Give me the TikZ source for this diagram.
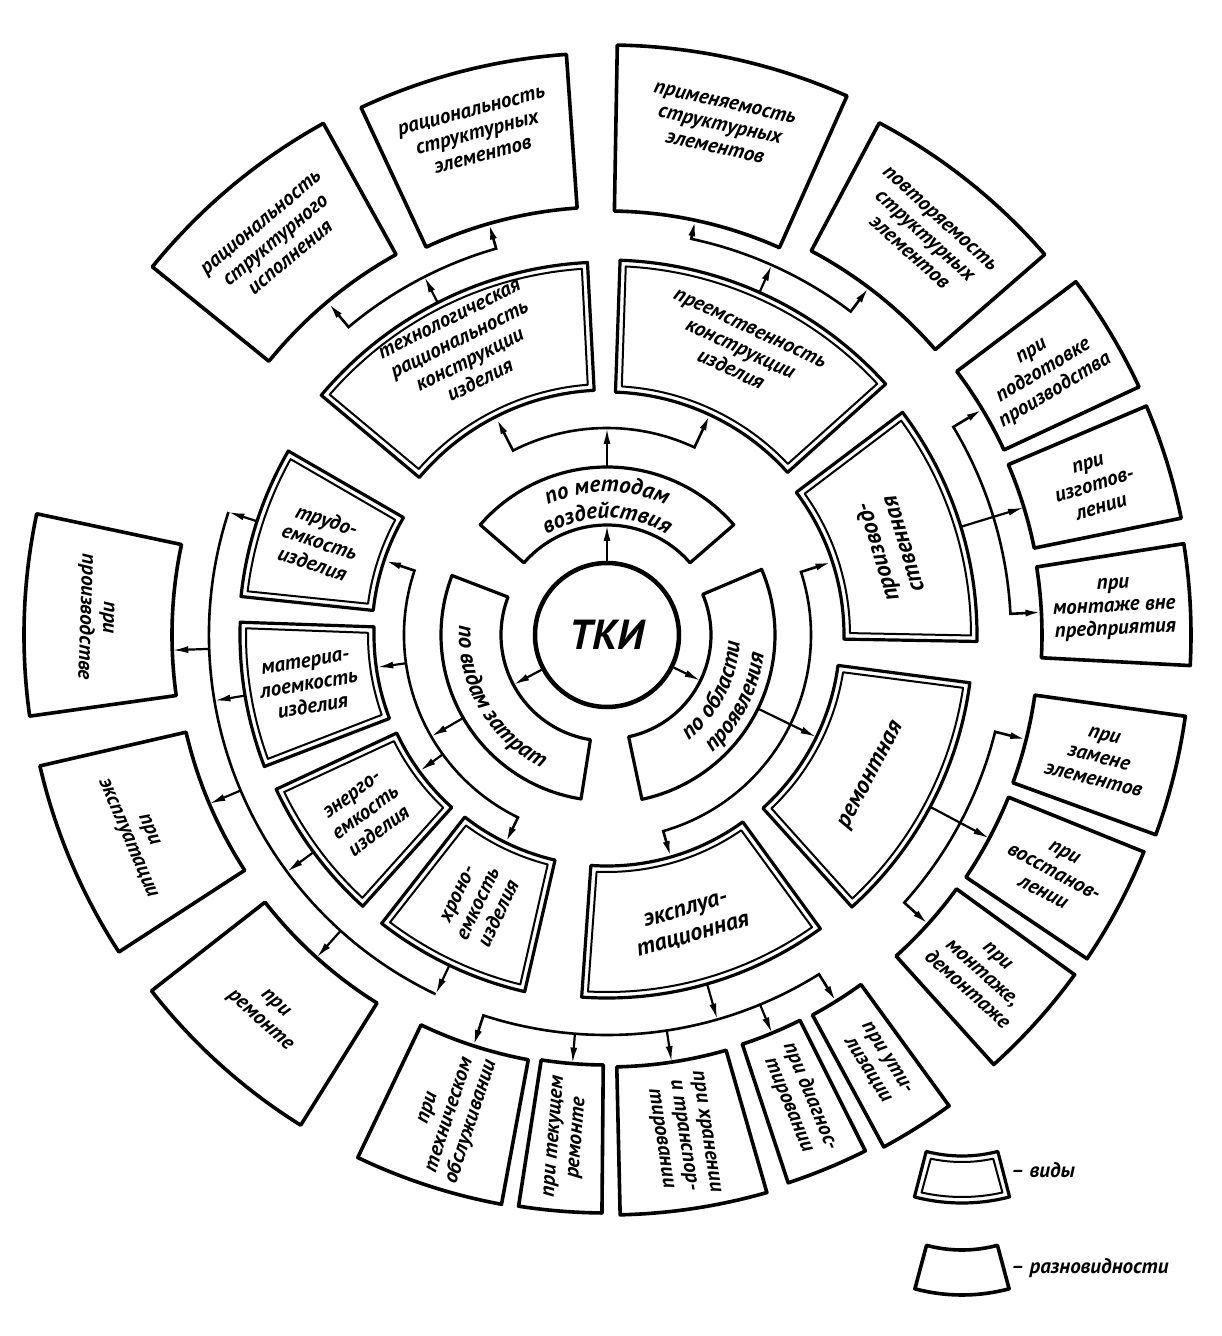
\documentclass[tikz,border=0pt]{standalone}
\usepackage{fontspec}
\setmainfont{PT Sans}
\usetikzlibrary{arrows.meta}
\usetikzlibrary{decorations.text}
\newcommand{\tkifont}{\bfseries\itshape\fontsize{21}{23}\selectfont}
\newcommand{\tkiarcfont}{\bfseries\itshape\fontsize{23}{25}\selectfont}
\newcommand{\sector}[4]{(#1:#3) arc[start angle=#1, end angle=#2, radius=#3] -- (#2:#4) arc[start angle=#2, end angle=#1, radius=#4] -- cycle}
\newcommand{\vidsector}[4]{%
    \draw[vid] \sector{#1}{#2}{#3}{#4};
    \pgfmathsetmacro{\vda}{6/#3*57.3}%
    \pgfmathsetmacro{\vdb}{6/#4*57.3}%
    \draw[vidin] ({#1+\vda}:{#3+6}) arc[start angle={#1+\vda}, end angle={#2-\vda}, radius={#3+6}]
        -- ({#2-\vdb}:{#4-6}) arc[start angle={#2-\vdb}, end angle={#1+\vdb}, radius={#4-6}] -- cycle;
}
\tikzset{
    ring/.style={line width=3.2pt, line join=round},
    raznov/.style={line width=3.6pt, line join=round},
    vid/.style={line width=3.2pt, line join=round},
    vidin/.style={line width=2pt, line join=round},
    arr/.style={line width=2.2pt, -{Latex[length=16pt,width=7pt]}},
    barr/.style={line width=2.6pt, {Latex[length=16pt,width=7pt]}-{Latex[length=16pt,width=7pt]}},
    brace/.style={line width=2.6pt},
    txt/.style={align=center, font=\tkifont, inner sep=0pt},
    bigtxt/.style={txt, font=\bfseries\itshape\fontsize{24}{27}\selectfont},
    arctxt/.style={decorate, decoration={text along path, text align=center, text={|\tkiarcfont|#1}}}
}
\begin{document}
\begin{tikzpicture}[x=1pt,y=1pt]
    \useasboundingbox (-607,-701) rectangle (615,635);

    \node[draw, circle, line width=4.5pt, minimum size=144pt, font=\bfseries\itshape\fontsize{42}{46}\selectfont] (tki) at (0,0) {ТКИ};

    \draw[ring] \sector{41}{139}{110}{168};
    \draw[ring] \sector{159}{261}{106}{166};
    \draw[ring] \sector{-78}{23}{104}{168};
    \path[arctxt=по методам] (139:143) arc[start angle=139, end angle=41, radius=143];
    \path[arctxt=воздействия] (139:117) arc[start angle=139, end angle=41, radius=117];
    \path[arctxt=по видам затрат] (161:148) arc[start angle=161, end angle=259, radius=148];
    \path[arctxt=по области] (-76:133) arc[start angle=-76, end angle=21, radius=133];
    \path[arctxt=проявления] (-76:158) arc[start angle=-76, end angle=21, radius=158];

    \draw[arr] (tki.90) -- (90:110);
    \draw[arr] (tki.208) -- (208:106);
    \draw[arr] (tki.-26) -- (-26:104);

    \draw[arr] (90:168) -- (90:207);
    \draw[barr] (117:243) -- (117:207) arc[start angle=117, end angle=65, radius=207] -- (65:243);
    \draw[barr] (18:236) -- (18:204) arc[start angle=18, end angle=-74, radius=204] -- (-74:231);
    \draw[arr] (-26:168) -- (-26:233);
    \draw[arr] (210:166) -- (210:203);
    \draw[barr] (161.5:234) -- (161.5:203) arc[start angle=161.5, end angle=244, radius=203] -- (244:231);
    \draw[arr] (188:203) -- (188:232);
    \draw[arr] (216:203) -- (216:231);

    \vidsector{93}{140}{245}{373}
    \vidsector{42}{88}{243}{375}
    \vidsector{-1}{37}{237}{370}
    \vidsector{-48}{-7.5}{233}{366}
    \vidsector{-94}{-54}{231}{363}
    \vidsector{150}{174}{235}{368}
    \vidsector{178}{201}{233}{367}
    \vidsector{205}{228}{232}{365}
    \vidsector{232}{257}{231}{366}

    \node[txt, rotate=26.5] (tech) at (116.5:318) {технологическая\\рациональность\\конструкции\\изделия};
    \node[txt, rotate=-25] (preem) at (65:315) {преемственность\\конструкции\\изделия};
    \node[bigtxt, rotate=107] (proizv) at (17:295) {производ-\\ственная};
    \node[bigtxt, rotate=62] (remont) at (-28:300) {ремонтная};
    \node[bigtxt, rotate=16] (ekspl) at (-74:300) {эксплуа-\\тационная};
    \node[txt, rotate=-18] (trud) at (162:302) {трудо-\\емкость\\изделия};
    \node[txt, rotate=9.5] (mater) at (189.5:302) {материа-\\лоемкость\\изделия};
    \node[txt, rotate=36.5] (energ) at (216.5:300) {энерго-\\емкость\\изделия};
    \node[txt, rotate=64.5] (khrono) at (244.5:298) {хроно-\\емкость\\изделия};

    \draw[arr] (117:373) -- (117:402);
    \draw[barr] (130:433) -- (130:402) arc[start angle=130, end angle=106, radius=402] -- (106:428);
    \draw[arr] (66:375) -- (66:405);
    \draw[barr] (78:424) -- (78:405) arc[start angle=78, end angle=53, radius=405] -- (53:435);
    \draw[arr] (17:370) -- (17:436);
    \draw[barr] (31:438) -- (31:404) arc[start angle=31, end angle=3, radius=404] -- (3:435);
    \draw[arr] (-28:366) -- (-28:433);
    \draw[barr] (-14:432) -- (-14:400) arc[start angle=-14, end angle=-42, radius=400] -- (-42:432);
    \draw[arr] (-74:363) -- (-74:400);
    \draw[barr] (-108:432) -- (-108:400) arc[start angle=-108, end angle=-58, radius=400] -- (-58:432);
    \draw[arr] (-94.6:400) -- (-94.6:430);
    \draw[arr] (-81.4:400) -- (-81.4:432);
    \draw[arr] (-67.5:400) -- (-67.5:431);
    \draw[brace] (162:398) arc[start angle=162, end angle=244.5, radius=398];
    \draw[arr] (162:368) -- (162:398);
    \draw[arr] (189.5:367) -- (189.5:398);
    \draw[arr] (216.5:365) -- (216.5:398);
    \draw[arr] (244.5:366) -- (244.5:398);
    \draw[arr] (182:398) -- (182:435);
    \draw[arr] (203:398) -- (203:432);
    \draw[arr] (228:398) -- (228:434);

    \draw[raznov] \sector{119}{141}{435}{585};
    \draw[raznov] \sector{94}{115}{428}{582};
    \draw[raznov] \sector{66}{89}{424}{590};
    \draw[raznov] \sector{41}{62}{435}{580};
    \draw[raznov] \sector{25}{37}{438}{587};
    \draw[raznov] \sector{11.5}{23}{436}{586};
    \draw[raznov] \sector{-3}{9}{435}{584};
    \draw[raznov] \sector{-20}{-8}{432}{584};
    \draw[raznov] \sector{-34}{-22}{433}{579};
    \draw[raznov] \sector{-48}{-36}{432}{578};
    \draw[raznov] \sector{-115.5}{-100.5}{432}{579};
    \draw[raznov] \sector{-98.8}{-90.5}{430}{578};
    \draw[raznov] \sector{-88.7}{-74}{432}{580};
    \draw[raznov] \sector{-71.7}{-63.4}{431}{577};
    \draw[raznov] \sector{-61.6}{-54}{432}{582};
    \draw[raznov] \sector{168}{188}{435}{583};
    \draw[raznov] \sector{193}{213}{432}{582};
    \draw[raznov] \sector{218}{238}{434}{578};

    \node[txt, rotate=40] (ratsisp) at (130:515) {рациональность\\структурного\\исполнения};
    \node[txt, rotate=14.5] (ratsel) at (104.5:518) {рациональность\\структурных\\элементов};
    \node[txt, rotate=-12.5] (primen) at (77.5:522) {применяемость\\структурных\\элементов};
    \node[txt, rotate=-42] (povtor) at (51.5:510) {повторяемость\\структурных\\элементов};
    \node[txt, rotate=31] (podg) at (31:510) {при\\подготовке\\производства};
    \node[txt, rotate=17] (izgot) at (17:510) {при\\изготов-\\лении};
    \node[txt, rotate=3] (montvne) at (3:508) {при\\монтаже вне\\предприятия};
    \node[txt, rotate=-14] (zamena) at (-14:507) {при\\замене\\элементов};
    \node[txt, rotate=-28] (vosst) at (-28:506) {при\\восстанов-\\лении};
    \node[txt, rotate=-42] (montdem) at (-42:505) {при\\монтаже,\\демонтаже};
    \node[txt, rotate=72] (tekhobs) at (-108:505) {при\\техническом\\обслуживании};
    \node[txt, rotate=85.4] (tekrem) at (-94.6:504) {при текущем\\ремонте};
    \node[txt, rotate=-81.4] (khran) at (-81.4:506) {при хранении\\и транспор-\\тировании};
    \node[txt, rotate=-67.5] (diagn) at (-67.5:504) {при диагнос-\\тировании};
    \node[txt, rotate=-57.8] (util) at (-57.8:507) {при ути-\\лизации};
    \node[txt, rotate=-92] (vproizv) at (178:512) {при\\производстве};
    \node[txt, rotate=-67] (vekspl) at (203:510) {при\\эксплуатации};
    \node[txt, rotate=-42] (vremont) at (228:508) {при\\ремонте};

    \begin{scope}[shift={(355,-378)}]
        \vidsector{-104.5}{-75.5}{143}{190}
    \end{scope}
    \begin{scope}[shift={(355,-478)}]
        \draw[raznov] \sector{-105}{-75}{137}{182};
    \end{scope}
    \node[txt, anchor=west] (leg-vid) at (404,-535) {– виды};
    \node[txt, anchor=west] (leg-raz) at (404,-633) {– разновидности};
\end{tikzpicture}
\end{document}
